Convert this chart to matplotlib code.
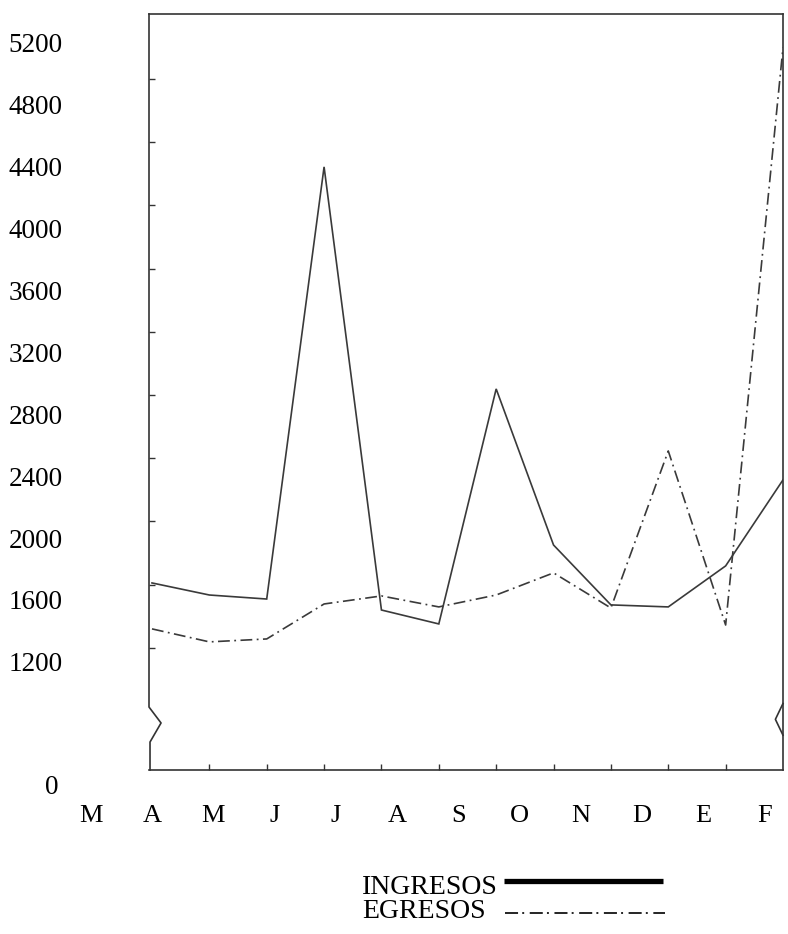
import matplotlib
matplotlib.use("Agg")
import matplotlib.pyplot as plt
import matplotlib.transforms as mtransforms
from matplotlib.lines import Line2D
import numpy as np

# ---- data ----
months = ["M", "A", "M", "J", "J", "A", "S", "O", "N", "D", "E", "F"]
ingresos = [1710, 1632, 1606, 4399, 1535, 1445, 2964, 1955, 1568, 1555, 1820, 2376]
egresos = [1413, 1329, 1348, 1574, 1626, 1555, 1632, 1775, 1548, 2563, 1438, 5170]
ytick_values = [1200, 1600, 2000, 2400, 2800, 3200, 3600, 4000, 4400, 4800, 5200]
ytick_labels = [str(v) for v in ytick_values]
zero_label = "0"
legend_labels = ["INGRESOS", "EGRESOS"]

# ---- layout ----
W, H = 788, 934
plt.rcParams["font.family"] = ["Liberation Serif", "DejaVu Serif"]
plt.rcParams["lines.scale_dashes"] = False
fig = plt.figure(figsize=(W / 100, H / 100), dpi=100)

ax_left, ax_right, ax_top, ax_bottom = 149, 783, 14, 770
ax = fig.add_axes([ax_left / W, 1 - ax_bottom / H,
                   (ax_right - ax_left) / W, (ax_bottom - ax_top) / H])

x = np.arange(len(ingresos))
ax.set_xlim(-0.052, len(ingresos) - 1)
ax.set_ylim(501, 5387)

line_color = "#3a3a3a"
dashdot = (0, (8.5, 3.2, 1.3, 3.2))
ax.plot(x, ingresos, color=line_color, lw=1.2, solid_joinstyle="miter")
ax.plot(x, egresos, color=line_color, lw=1.2, linestyle=dashdot)

# spines / frame
frame_col = "#333333"
for s in ["top", "right", "bottom"]:
    ax.spines[s].set_color(frame_col)
    ax.spines[s].set_linewidth(1.2)
ax.spines["left"].set_visible(False)
# left axis with break symbol
ax.plot([0, 0, 0.019, 0.0016, 0.0016], [1, 0.0833, 0.0622, 0.037, 0],
        transform=ax.transAxes, color=frame_col, lw=1.2, clip_on=False)
# right break symbol
ax.plot([1, 0.988, 1], [0.088, 0.067, 0.046],
        transform=ax.transAxes, color=frame_col, lw=1.2, clip_on=False)

# y tick labels (no tick marks)
ax.set_yticks(ytick_values, ytick_labels)
ax.tick_params(axis="y", which="major", length=0, pad=62, labelsize=19.5)
# small inward tick marks on the left axis
mark_vals = 4967 - 408.5 * np.arange(10)
ax.set_yticks(mark_vals, minor=True)
ax.tick_params(axis="y", which="minor", direction="in", length=4,
               width=1.0, color=frame_col, left=True)

# x tick marks on the bottom axis (inward, no labels)
ax.set_xticks(x[1:-1])
ax.tick_params(axis="x", which="major", direction="in", length=4,
               width=1.0, color=frame_col, labelbottom=False)

# zero label, below the axis break
ax.annotate(zero_label, xy=(0, 0), xycoords="axes fraction",
            xytext=(-91 * 0.72, -18 * 0.72), textcoords="offset points",
            ha="right", va="center", fontsize=19.5)

# month labels (offset from the data points as in the reference)
trans = mtransforms.blended_transform_factory(ax.transData, ax.transAxes)
px_per_unit = (ax_right - 152) / (len(ingresos) - 1)
for i, m in enumerate(months):
    px = 91 + 61.2 * i
    ax.text((px - 152) / px_per_unit, -46 / (ax_bottom - ax_top), m,
            transform=trans, ha="center", va="center", fontsize=19)

# legend, drawn manually
fig.text(362 / W, 1 - 887 / H, legend_labels[0], ha="left", va="center",
         fontsize=20)
fig.text(362 / W, 1 - 912 / H, legend_labels[1], ha="left", va="center",
         fontsize=20)
fig.add_artist(Line2D([504 / W, 663 / W], [1 - 881 / H, 1 - 881 / H],
                      transform=fig.transFigure, color="black", lw=3.8,
                      solid_capstyle="butt"))
fig.add_artist(Line2D([505 / W, 665 / W], [1 - 913 / H, 1 - 913 / H],
                      transform=fig.transFigure, color="black", lw=1.2,
                      linestyle=(0, (9.4, 3.0, 1.4, 4.0))))

fig.savefig("out.png", dpi=100, facecolor="white")
